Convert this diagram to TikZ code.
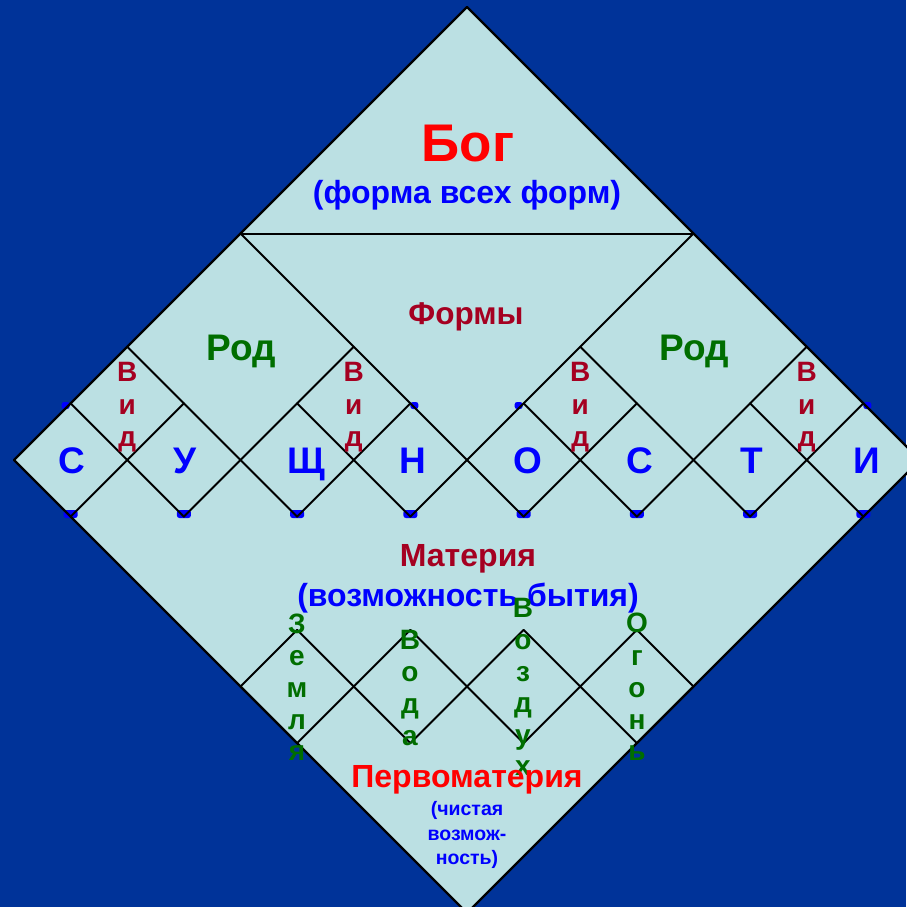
\documentclass[tikz,border=0pt]{standalone}
\usepackage{fontspec}
\setmainfont{Liberation Sans}
\definecolor{bgblue}{RGB}{0,51,153}
\definecolor{pale}{RGB}{187,224,227}
\definecolor{crim}{RGB}{165,0,33}
\definecolor{grn}{RGB}{0,110,0}
\definecolor{txtblue}{RGB}{0,0,255}
\definecolor{txtred}{RGB}{255,0,0}
\tikzset{
  lbl/.style={inner sep=0pt, anchor=base},
  fs/.style={font=\bfseries\fontsize{#1}{#1}\selectfont},
  gridline/.style={line width=2pt, line cap=round, line join=round},
  blob/.style={fill=txtblue, rounded corners=2.5pt}
}
\begin{document}
\begin{tikzpicture}[x=1pt,y=-1pt]
\useasboundingbox (0,0) rectangle (906,907);
\fill[bgblue] (0,0) rectangle (906,907);
\begin{scope}[shift={(467,460)},x=56.625pt,y=56.625pt]
  \fill[pale] (0,8)--(8,0)--(0,-8)--(-8,0)--cycle;
\end{scope}
% small blue marks
\foreach \x in {70.6,183.9,297.1,410.4,523.6,636.9,750.1,863.4}
  \fill[blob] (\x-7,510) rectangle (\x+7,518);
\foreach \x/\d in {70.6/-5,410.4/4,523.6/-5,863.4/4}
  \fill[blob] (\x+\d-4,402) rectangle (\x+\d+4,409);
\begin{scope}[shift={(467,460)},x=56.625pt,y=56.625pt]
  \draw[gridline, line width=2.4pt] (0,8)--(8,0)--(0,-8)--(-8,0)--cycle;
  \draw[gridline] (-4,4)--(4,4);
  % down-right lines
  \draw[gridline] (-7,1)--(-5,-1);
  \draw[gridline] (-6,2)--(-3,-1);
  \draw[gridline] (-3,1)--(-1,-1);
  \draw[gridline] (-4,4)--(1,-1);
  \draw[gridline] (1,1)--(3,-1);
  \draw[gridline] (2,2)--(5,-1);
  \draw[gridline] (5,1)--(7,-1);
  % up-right lines
  \draw[gridline] (7,1)--(5,-1);
  \draw[gridline] (6,2)--(3,-1);
  \draw[gridline] (3,1)--(1,-1);
  \draw[gridline] (4,4)--(-1,-1);
  \draw[gridline] (-1,1)--(-3,-1);
  \draw[gridline] (-2,2)--(-5,-1);
  \draw[gridline] (-5,1)--(-7,-1);
  % elements
  \draw[gridline] (-4,-4)--(-3,-3)--(-2,-4)--(-1,-3)--(0,-4)--(1,-3)--(2,-4)--(3,-3)--(4,-4);
  \draw[gridline] (-4,-4)--(-3,-5)--(-2,-4)--(-1,-5)--(0,-4)--(1,-5)--(2,-4)--(3,-5)--(4,-4);
\end{scope}
% texts
\node[lbl, fs=53, text=txtred] (bog) at (468,161) {Бог};
\node[lbl, fs=32, text=txtblue] (bogsub) at (467,203) {(форма всех форм)};
\node[lbl, fs=31.5, text=crim] (formy) at (466,324) {Формы};
\node[lbl, fs=37, text=grn] (rod1) at (241,360) {Род};
\node[lbl, fs=37, text=grn] (rod2) at (694,360) {Род};
\foreach \x [count=\k] in {127.25,353.75,580.25,806.75}
  \foreach \ch/\y [count=\j] in {В/381,и/414,д/446}
    \node[lbl, fs=28, text=crim] (vid\k\j) at (\x,\y) {\ch};
\foreach \ch/\x [count=\i] in {С/72,У/185,Щ/306,Н/413,О/528,С/640,Т/752,И/867}
  \node[lbl, fs=37, text=txtblue] (let\i) at (\x,473) {\ch};
\node[lbl, fs=32, text=crim] (mat) at (468,566) {Материя};
\node[lbl, fs=32, text=txtblue] (matsub) at (468,606) {(возможность бытия)};
\foreach \ch/\y [count=\j] in {З/633,е/665,м/697,л/729,я/760}
  \node[lbl, fs=28, text=grn] (zem\j) at (297,\y) {\ch};
\foreach \ch/\y [count=\j] in {В/649,о/681,д/713,а/745}
  \node[lbl, fs=28, text=grn] (vod\j) at (410,\y) {\ch};
\foreach \ch/\y [count=\j] in {В/617,о/649,з/681,д/712,у/744,х/775}
  \node[lbl, fs=28, text=grn] (voz\j) at (523,\y) {\ch};
\foreach \ch/\y [count=\j] in {О/632,г/665,о/697,н/729,ь/760}
  \node[lbl, fs=28, text=grn] (ogn\j) at (637,\y) {\ch};
\node[lbl, fs=32, text=txtred] (perv) at (467,787) {Первоматерия};
\node[lbl, fs=19.5, text=txtblue] (p1) at (467,815) {(чистая};
\node[lbl, fs=19.5, text=txtblue] (p2) at (467,840) {возмож-};
\node[lbl, fs=19.5, text=txtblue] (p3) at (467,864) {ность)};
\end{tikzpicture}
\end{document}
